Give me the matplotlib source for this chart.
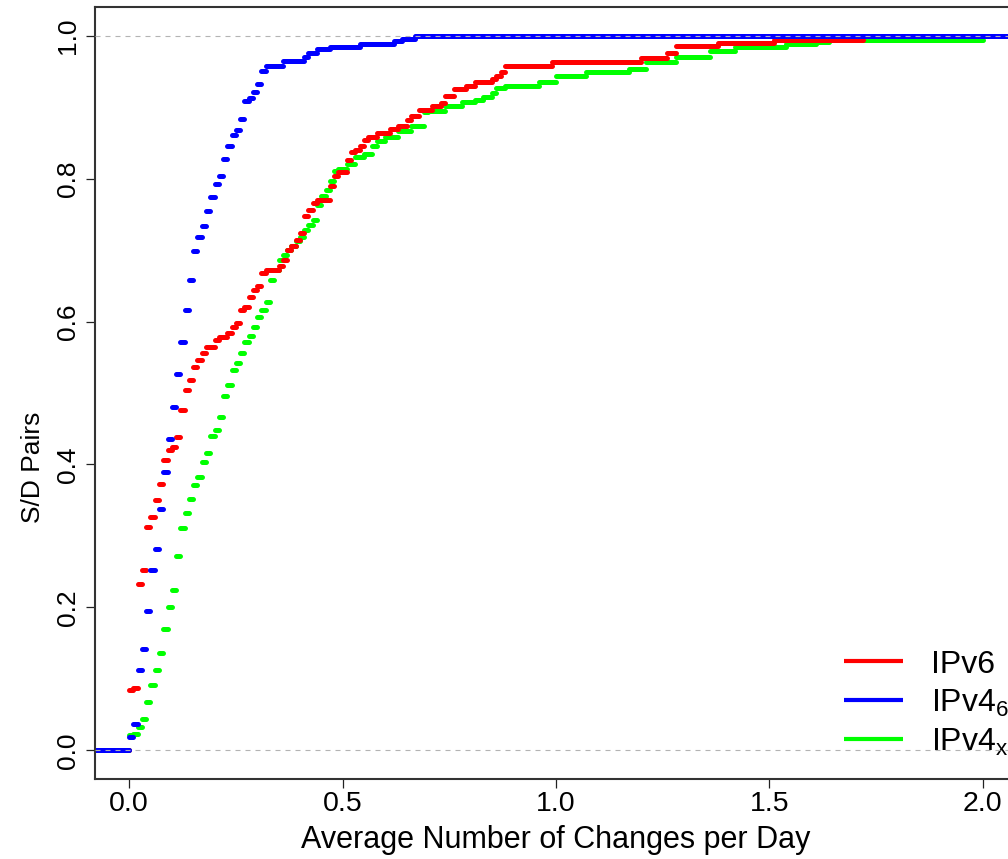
import numpy as np
import matplotlib
matplotlib.use("Agg")
import matplotlib.pyplot as plt
from matplotlib.collections import LineCollection

plt.rcParams['font.family'] = ['Liberation Sans', 'DejaVu Sans']
plt.rcParams['mathtext.fontset'] = 'custom'
plt.rcParams['mathtext.rm'] = 'Liberation Sans'
plt.rcParams['mathtext.default'] = 'regular'

# ECDF jump points (changes/day) and cumulative fraction of S/D pairs
ipv6_x = [0.00, 0.01, 0.02, 0.03, 0.04, 0.05, 0.06, 0.07, 0.08, 0.09,
          0.10, 0.11, 0.12, 0.13, 0.14, 0.15, 0.16, 0.17, 0.18, 0.20,
          0.21, 0.23, 0.24, 0.25, 0.26, 0.27, 0.28, 0.29, 0.30, 0.31,
          0.32, 0.35, 0.36, 0.37, 0.38, 0.39, 0.40, 0.41, 0.42, 0.43,
          0.44, 0.47, 0.48, 0.49, 0.51, 0.52, 0.53, 0.54, 0.55, 0.56,
          0.58, 0.61, 0.63, 0.65, 0.66, 0.68, 0.71, 0.73, 0.74, 0.76,
          0.79, 0.81, 0.85, 0.86, 0.87, 0.88, 0.99, 1.20, 1.26, 1.28,
          1.38, 1.51, 1.72]
ipv6_y = [0.084, 0.088, 0.233, 0.252, 0.312, 0.326, 0.350, 0.373, 0.406, 0.420,
          0.4245, 0.4387, 0.4765, 0.504, 0.518, 0.537, 0.546, 0.556, 0.5646, 0.574,
          0.578, 0.5836, 0.593, 0.598, 0.616, 0.621, 0.635, 0.644, 0.649, 0.6676,
          0.672, 0.677, 0.686, 0.700, 0.705, 0.714, 0.7235, 0.747, 0.7566, 0.766,
          0.7706, 0.789, 0.803, 0.8098, 0.8266, 0.8368, 0.8406, 0.845, 0.8545, 0.858,
          0.8636, 0.869, 0.874, 0.8825, 0.888, 0.8965, 0.901, 0.906, 0.9156, 0.925,
          0.930, 0.935, 0.939, 0.944, 0.9487, 0.958, 0.9627, 0.969, 0.976, 0.986,
          0.990, 0.9944, 1.0]

ipv46_x = [0.00, 0.01, 0.02, 0.03, 0.04, 0.05, 0.06, 0.07, 0.08, 0.09,
           0.10, 0.11, 0.12, 0.13, 0.14, 0.15, 0.16, 0.17, 0.18, 0.19,
           0.20, 0.21, 0.22, 0.23, 0.24, 0.25, 0.26, 0.27, 0.28, 0.29,
           0.30, 0.31, 0.32, 0.36, 0.41, 0.42, 0.44, 0.47, 0.54, 0.62,
           0.64, 0.67]
ipv46_y = [0.0186, 0.037, 0.112, 0.142, 0.195, 0.252, 0.2816, 0.3375, 0.390, 0.436,
           0.480, 0.526, 0.571, 0.616, 0.658, 0.699, 0.718, 0.733, 0.755, 0.774,
           0.793, 0.804, 0.827, 0.846, 0.861, 0.868, 0.883, 0.909, 0.913, 0.921,
           0.932, 0.951, 0.958, 0.965, 0.970, 0.976, 0.981, 0.984, 0.988, 0.992,
           0.995, 1.0]

ipv4x_x = [0.00, 0.01, 0.02, 0.03, 0.04, 0.05, 0.06, 0.07, 0.08, 0.09,
           0.10, 0.11, 0.12, 0.13, 0.14, 0.15, 0.16, 0.17, 0.18, 0.19,
           0.20, 0.21, 0.22, 0.23, 0.24, 0.25, 0.26, 0.27, 0.28, 0.29,
           0.30, 0.31, 0.32, 0.33, 0.34, 0.35, 0.36, 0.37, 0.38, 0.39,
           0.40, 0.41, 0.42, 0.43, 0.44, 0.45, 0.46, 0.47, 0.48, 0.49,
           0.51, 0.53, 0.55, 0.57, 0.58, 0.60, 0.63, 0.66, 0.69, 0.70,
           0.74, 0.78, 0.81, 0.83, 0.85, 0.86, 0.88, 0.96, 1.00, 1.07,
           1.17, 1.21, 1.28, 1.36, 1.42, 1.54, 1.61, 1.64, 2.00]
ipv4x_y = [0.021, 0.0233, 0.0326, 0.0443, 0.068, 0.0919, 0.113, 0.1366, 0.170, 0.200,
           0.2238, 0.2718, 0.3105, 0.332, 0.3524, 0.3706, 0.3828, 0.4035, 0.4154, 0.4392,
           0.4485, 0.4667, 0.4965, 0.5114, 0.5322, 0.5417, 0.556, 0.571, 0.5804, 0.592,
           0.607, 0.616, 0.628, 0.658, 0.672, 0.686, 0.6937, 0.700, 0.706, 0.713,
           0.718, 0.728, 0.735, 0.742, 0.763, 0.776, 0.7846, 0.797, 0.810, 0.813,
           0.820, 0.830, 0.834, 0.845, 0.853, 0.858, 0.867, 0.874, 0.893, 0.895,
           0.902, 0.907, 0.910, 0.9137, 0.919, 0.9266, 0.930, 0.935, 0.944, 0.9487,
           0.953, 0.9627, 0.970, 0.979, 0.9836, 0.988, 0.991, 0.9937, 1.0]

x_ticks = [0.0, 0.5, 1.0, 1.5, 2.0]
y_ticks = [0.0, 0.2, 0.4, 0.6, 0.8, 1.0]
xmin, xmax = -0.08, 2.08

fig = plt.figure(figsize=(10.08, 8.59), dpi=100)
ax = fig.add_axes([95 / 1008, 80 / 859, 922 / 1008, 772 / 859])


def ecdf_steps(xs, ys, color):
    # horizontal steps only (no verticals), like plot.ecdf(verticals=FALSE)
    edges = [xmin] + list(xs) + [xmax]
    levels = [0.0] + list(ys)
    segs = [[(edges[i], levels[i]), (edges[i + 1], levels[i])] for i in range(len(levels))]
    lc = LineCollection(segs, colors=color, linewidths=3.6, capstyle='round')
    ax.add_collection(lc)


ecdf_steps(ipv4x_x, ipv4x_y, '#00FF00')
ecdf_steps(ipv6_x, ipv6_y, '#FF0000')
ecdf_steps(ipv46_x, ipv46_y, '#0000FF')

for h in (0, 1):
    ax.axhline(h, color='#B3B3B3', lw=0.8, linestyle=(0, (4.5, 4.5)), zorder=5)

ax.set_xlim(xmin, xmax)
ax.set_ylim(-0.04, 1.04)
ax.set_xticks(x_ticks)
ax.set_yticks(y_ticks)
ax.set_xticklabels([f"{v:.1f}" for v in x_ticks], fontsize=20.5)
ax.set_yticklabels([f"{v:.1f}" for v in y_ticks], fontsize=19)
ax.tick_params(direction='out', length=6.5, width=0.9, color='#222222')
ax.tick_params(axis='x', pad=2)
ax.tick_params(axis='y', pad=4, labelrotation=90)
for lab in ax.get_yticklabels():
    lab.set_va('center')
for sp in ax.spines.values():
    sp.set_linewidth(1.5)
    sp.set_color('#333333')

ax.set_xlabel("Average Number of Changes per Day", fontsize=22, labelpad=6)
ax.set_ylabel("S/D Pairs", fontsize=19)
ax.yaxis.set_label_coords(-0.054, 0.404)

# legend, no box
legend_entries = [('IPv6', '#FF0000'), ('IPv4$_6$', '#0000FF'), ('IPv4$_x$', '#00FF00')]
row_y = [0.1528, 0.1023, 0.0518]
for (lab, col), yy in zip(legend_entries, row_y):
    ax.plot([0.8124, 0.8764], [yy, yy], transform=ax.transAxes, color=col,
            lw=3.0, solid_capstyle='butt', clip_on=False)
    ax.text(0.9067, yy - 0.016, lab, transform=ax.transAxes, fontsize=23,
            va='baseline', ha='left')

fig.savefig("out.png", dpi=100)
